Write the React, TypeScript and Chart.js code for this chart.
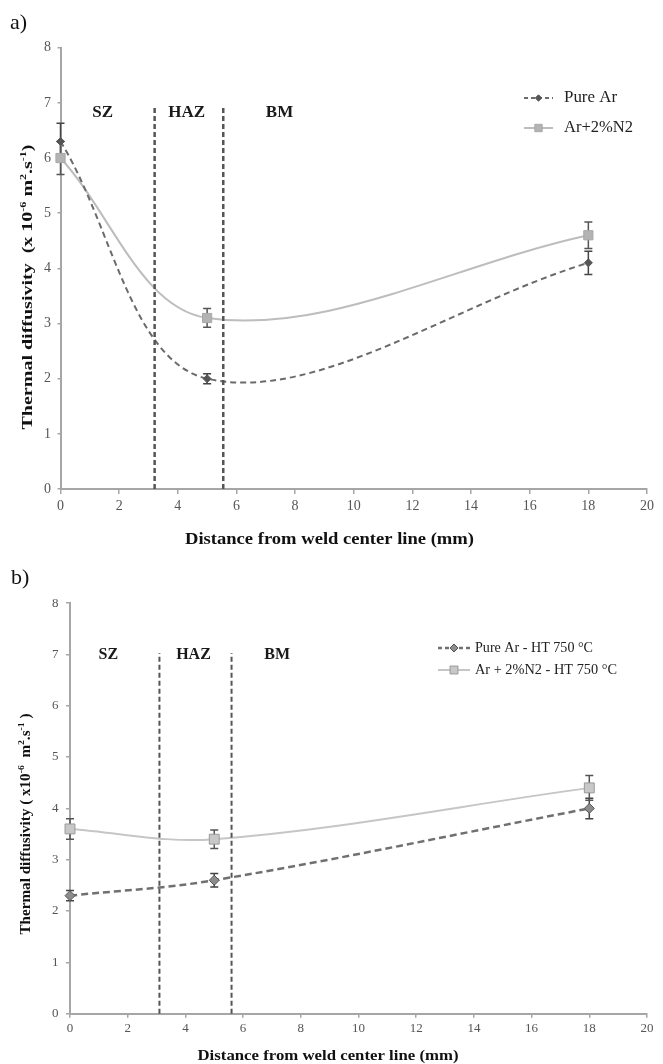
import { useEffect, useRef } from 'react';
import { Chart, registerables } from 'chart.js';

Chart.register(...registerables);

// ---------- data ----------
const distanceMm = [0, 5, 18];

const pureArA = [6.3, 2.0, 4.1];
const pureArAErr = [0.33, 0.09, 0.21];
const arN2A = [6.0, 3.1, 4.6];
const arN2AErr = [0.3, 0.17, 0.24];

const pureArB = [2.3, 2.6, 4.0];
const pureArBErr = [0.1, 0.13, 0.2];
const arN2B = [3.6, 3.4, 4.4];
const arN2BErr = [0.2, 0.18, 0.24];

const seriesLabelsA = ['Pure Ar', 'Ar+2%N2'];
const seriesLabelsB = ['Pure Ar - HT 750 °C', 'Ar + 2%N2 - HT 750 °C'];

const zoneNames = ['SZ', 'HAZ', 'BM'];
const zoneBoundaryA = [3.21, 5.55];
const zoneBoundaryB = [3.1, 5.6];
const zoneTopA = 6.93;
const zoneTopB = 7.03;
const zoneLabelXA = [1.44, 4.3, 7.47];
const zoneLabelXB = [1.33, 4.28, 7.18];
const zoneLabelYA = 6.82;
const zoneLabelYB = 6.99;

const xRange = [0, 20];
const xStep = 2;
const yRange = [0, 8];
const yStep = 1;

const xTitle = 'Distance from weld center line (mm)';
const yTitleA = [
  { t: 'Thermal diffusivity  (x 10' }, { t: '-6', sup: true }, { t: ' m' }, { t: '2', sup: true },
  { t: '.s' }, { t: '-1', sup: true }, { t: ')' },
];
const yTitleB = [
  { t: 'Thermal diffusivity ( x10' }, { t: '-6', sup: true }, { t: '  m' }, { t: '2', sup: true },
  { t: '.s' }, { t: '-1', sup: true }, { t: ' )' },
];

// ---------- helpers ----------
const SERIF = '"Liberation Serif", "Times New Roman", serif';

type Seg = { t: string; sup?: boolean };

function drawRich(ctx: CanvasRenderingContext2D, segs: Seg[], cx: number, cy: number, size: number,
  weight: string, targetW: number, rotate: boolean, color: string) {
  ctx.save();
  ctx.translate(cx, cy);
  if (rotate) ctx.rotate(-Math.PI / 2);
  const base = `${weight} ${size}px ${SERIF}`;
  const small = `${weight} ${Math.round(size * 0.62)}px ${SERIF}`;
  let total = 0;
  const widths = segs.map((s) => {
    ctx.font = s.sup ? small : base;
    const w = ctx.measureText(s.t).width;
    total += w;
    return w;
  });
  const k = targetW ? targetW / total : 1;
  ctx.scale(k, 1);
  ctx.fillStyle = color;
  ctx.textAlign = 'left';
  ctx.textBaseline = 'alphabetic';
  let x = -total / 2;
  const baseY = size * 0.33;
  segs.forEach((s, i) => {
    ctx.font = s.sup ? small : base;
    ctx.fillText(s.t, x, s.sup ? baseY - size * 0.4 : baseY);
    x += widths[i];
  });
  ctx.restore();
}

function drawMarker(ctx: CanvasRenderingContext2D, style: string, x: number, y: number, r: number, fill: string, stroke: string) {
  ctx.save();
  ctx.fillStyle = fill;
  ctx.strokeStyle = stroke;
  ctx.lineWidth = 1;
  ctx.setLineDash([]);
  ctx.beginPath();
  if (style === 'rectRot') {
    ctx.moveTo(x, y - r);
    ctx.lineTo(x + r, y);
    ctx.lineTo(x, y + r);
    ctx.lineTo(x - r, y);
    ctx.closePath();
  } else {
    const s = r * Math.SQRT1_2;
    ctx.rect(x - s, y - s, 2 * s, 2 * s);
  }
  ctx.fill();
  ctx.stroke();
  ctx.restore();
}

// ---------- panels ----------
interface PanelCfg {
  top: number;
  height: number;
  area: { left: number; right: number; top: number; bottom: number };
  tag: string;
  tagPos: [number, number];
  tagSize: number;
  xTitlePos: [number, number];
  xTitleSize: number;
  xTitleW: number;
  yTitle: Seg[];
  yTitlePos: [number, number];
  yTitleSize: number;
  yTitleLen: number;
  tickSize: number;
  xTickLen: number;
  xTickPad: number;
  yTickLen: number;
  yTickPad: number;
  zoneBoundary: number[];
  zoneTop: number;
  zoneLabelX: number[];
  zoneLabelY: number;
  zoneSize: number;
  zoneLineW: number;
  labels: string[];
  pure: number[];
  pureErr: number[];
  n2: number[];
  n2Err: number[];
  pureStyle: any;
  n2Style: any;
  legend: { x0: number; x1: number; tx: number; ys: number[]; widths: number[]; size: number };
}

const panelA: PanelCfg = {
  top: 0,
  height: 555,
  area: { left: 60.5, right: 647, top: 47.7, bottom: 489 },
  tag: 'a)',
  tagPos: [10, 29],
  tagSize: 22,
  xTitlePos: [329.5, 539],
  xTitleSize: 16,
  xTitleW: 289,
  yTitle: yTitleA,
  yTitlePos: [27, 287],
  yTitleSize: 15,
  yTitleLen: 285,
  tickSize: 14,
  xTickLen: 5,
  xTickPad: 4,
  yTickLen: 3,
  yTickPad: 6.5,
  zoneBoundary: zoneBoundaryA,
  zoneTop: zoneTopA,
  zoneLabelX: zoneLabelXA,
  zoneLabelY: zoneLabelYA,
  zoneSize: 17,
  zoneLineW: 2.5,
  labels: seriesLabelsA,
  pure: pureArA,
  pureErr: pureArAErr,
  n2: arN2A,
  n2Err: arN2AErr,
  pureStyle: { color: '#6b6b6b', dash: [6, 4], width: 2, marker: 'rectRot', r: 4, fill: '#555555', stroke: '#555555', err: '#444444' },
  n2Style: { color: '#bdbdbd', dash: [], width: 2, marker: 'rect', r: 6.5, fill: '#b3b3b3', stroke: '#a8a8a8', err: '#555555' },
  legend: { x0: 524, x1: 553, tx: 564, ys: [98, 128], widths: [53, 69], size: 16 },
};

const panelB: PanelCfg = {
  top: 555,
  height: 509,
  area: { left: 70, right: 647, top: 48.1, bottom: 458.7 },
  tag: 'b)',
  tagPos: [11, 29],
  tagSize: 22,
  xTitlePos: [328, 500.5],
  xTitleSize: 15,
  xTitleW: 261,
  yTitle: yTitleB,
  yTitlePos: [25, 269],
  yTitleSize: 14,
  yTitleLen: 221,
  tickSize: 13,
  xTickLen: 4,
  xTickPad: 3,
  yTickLen: 4,
  yTickPad: 7.5,
  zoneBoundary: zoneBoundaryB,
  zoneTop: zoneTopB,
  zoneLabelX: zoneLabelXB,
  zoneLabelY: zoneLabelYB,
  zoneSize: 16,
  zoneLineW: 2,
  labels: seriesLabelsB,
  pure: pureArB,
  pureErr: pureArBErr,
  n2: arN2B,
  n2Err: arN2BErr,
  pureStyle: { color: '#707070', dash: [7, 4], width: 2.5, marker: 'rectRot', r: 5, fill: '#8c8c8c', stroke: '#555555', err: '#444444' },
  n2Style: { color: '#c6c6c6', dash: [], width: 2, marker: 'rect', r: 7, fill: '#c8c8c8', stroke: '#9a9a9a', err: '#555555' },
  legend: { x0: 438, x1: 470, tx: 475, ys: [93, 115], widths: [118, 142], size: 14 },
};

function makeDecor(cfg: PanelCfg) {
  return {
    id: 'decor',
    beforeDatasetsDraw(chart: any) {
      const ctx: CanvasRenderingContext2D = chart.ctx;
      const xs = chart.scales.x;
      const ys = chart.scales.y;
      chart.data.datasets.forEach((ds: any) => {
        if (!ds.errorBars) return;
        ctx.save();
        ctx.strokeStyle = ds.errorColor;
        ctx.lineWidth = 1.5;
        ctx.setLineDash([]);
        ds.data.forEach((p: any, i: number) => {
          const e = ds.errorBars[i];
          const px = xs.getPixelForValue(p.x);
          const t = ys.getPixelForValue(p.y + e);
          const b = ys.getPixelForValue(p.y - e);
          const cap = 4;
          ctx.beginPath();
          ctx.moveTo(px, t);
          ctx.lineTo(px, b);
          ctx.moveTo(px - cap, t);
          ctx.lineTo(px + cap, t);
          ctx.moveTo(px - cap, b);
          ctx.lineTo(px + cap, b);
          ctx.stroke();
        });
        ctx.restore();
      });
    },
    afterDraw(chart: any) {
      const ctx: CanvasRenderingContext2D = chart.ctx;
      const xs = chart.scales.x;
      const ys = chart.scales.y;
      ctx.save();
      ctx.fillStyle = '#111';
      ctx.font = `${cfg.tagSize}px ${SERIF}`;
      ctx.textAlign = 'left';
      ctx.textBaseline = 'alphabetic';
      ctx.fillText(cfg.tag, cfg.tagPos[0], cfg.tagPos[1]);
      ctx.restore();

      drawRich(ctx, [{ t: xTitle }], cfg.xTitlePos[0], cfg.xTitlePos[1], cfg.xTitleSize, 'bold', cfg.xTitleW, false, '#111');
      drawRich(ctx, cfg.yTitle, cfg.yTitlePos[0], cfg.yTitlePos[1], cfg.yTitleSize, 'bold', cfg.yTitleLen, true, '#111');

      ctx.save();
      ctx.fillStyle = '#1a1a1a';
      ctx.font = `bold ${cfg.zoneSize}px ${SERIF}`;
      ctx.textAlign = 'center';
      ctx.textBaseline = 'middle';
      zoneNames.forEach((n, i) => {
        ctx.fillText(n, xs.getPixelForValue(cfg.zoneLabelX[i]), ys.getPixelForValue(cfg.zoneLabelY));
      });
      ctx.restore();

      const L = cfg.legend;
      [cfg.pureStyle, cfg.n2Style].forEach((st: any, i: number) => {
        const y = L.ys[i];
        ctx.save();
        ctx.strokeStyle = st.color;
        ctx.lineWidth = st.width;
        ctx.setLineDash(st.dash.length ? [4, 3] : []);
        ctx.beginPath();
        ctx.moveTo(L.x0, y);
        ctx.lineTo(L.x1, y);
        ctx.stroke();
        ctx.restore();
        drawMarker(ctx, st.marker, (L.x0 + L.x1) / 2, y, st.r * 0.8, st.fill, st.stroke);
        ctx.save();
        ctx.font = `${L.size}px ${SERIF}`;
        const w = ctx.measureText(cfg.labels[i]).width;
        ctx.translate(L.tx, y);
        ctx.scale(L.widths[i] / w, 1);
        ctx.fillStyle = '#222';
        ctx.textAlign = 'left';
        ctx.textBaseline = 'middle';
        ctx.fillText(cfg.labels[i], 0, 0);
        ctx.restore();
      });
    },
  };
}

function buildConfig(cfg: PanelCfg): any {
  const pts = (ys: number[]) => distanceMm.map((x, i) => ({ x, y: ys[i] }));
  const zoneDs = cfg.zoneBoundary.map((b) => ({
    label: 'zone',
    data: [{ x: b, y: yRange[0] }, { x: b, y: cfg.zoneTop }],
    borderColor: '#555555',
    borderWidth: cfg.zoneLineW,
    borderDash: [5, 3],
    pointRadius: 0,
    tension: 0,
    clip: false,
  }));
  const series = (vals: number[], errs: number[], st: any, label: string) => ({
    label,
    data: pts(vals),
    errorBars: errs,
    errorColor: st.err,
    borderColor: st.color,
    borderWidth: st.width,
    borderDash: st.dash,
    pointStyle: st.marker,
    pointRadius: st.r,
    pointBackgroundColor: st.fill,
    pointBorderColor: st.stroke,
    pointBorderWidth: 1,
    tension: 0.35,
    fill: false,
    clip: false,
  });
  const tickFont = { family: SERIF, size: cfg.tickSize };
  return {
    type: 'line',
    data: {
      datasets: [
        ...zoneDs,
        series(cfg.pure, cfg.pureErr, cfg.pureStyle, cfg.labels[0]),
        series(cfg.n2, cfg.n2Err, cfg.n2Style, cfg.labels[1]),
      ],
    },
    options: {
      responsive: false,
      maintainAspectRatio: false,
      animation: false,
      devicePixelRatio: 1,
      layout: { padding: { left: 0, top: cfg.area.top, right: 663 - cfg.area.right, bottom: 0 } },
      plugins: { legend: { display: false }, tooltip: { enabled: false }, title: { display: false } },
      scales: {
        x: {
          type: 'linear',
          min: xRange[0],
          max: xRange[1],
          ticks: { stepSize: xStep, autoSkip: false, maxRotation: 0, font: tickFont, color: '#555', padding: cfg.xTickPad },
          grid: { display: true, drawOnChartArea: false, drawTicks: true, tickLength: cfg.xTickLen, color: '#a6a6a6', lineWidth: 1.5 },
          border: { display: true, color: '#a6a6a6', width: 2 },
          afterFit: (s: any) => { s.height = cfg.height - cfg.area.bottom; },
        },
        y: {
          type: 'linear',
          min: yRange[0],
          max: yRange[1],
          ticks: { stepSize: yStep, autoSkip: false, font: tickFont, color: '#555', padding: cfg.yTickPad },
          grid: { display: true, drawOnChartArea: false, drawTicks: true, tickLength: cfg.yTickLen, color: '#a6a6a6', lineWidth: 1.5 },
          border: { display: true, color: '#a6a6a6', width: 2 },
          afterFit: (s: any) => { s.width = cfg.area.left; },
        },
      },
    },
    plugins: [makeDecor(cfg)],
  };
}

function Panel({ cfg }: { cfg: PanelCfg }) {
  const ref = useRef<HTMLCanvasElement>(null);
  useEffect(() => {
    const chart = new Chart(ref.current as HTMLCanvasElement, buildConfig(cfg));
    return () => chart.destroy();
  }, [cfg]);
  return (
    <canvas
      ref={ref}
      width={663}
      height={cfg.height}
      style={{ position: 'absolute', left: 0, top: cfg.top, width: 663, height: cfg.height, display: 'block' }}
    />
  );
}

export default function App() {
  return (
    <div style={{ position: 'absolute', left: 0, top: 0, width: 663, height: 1064, background: '#fff' }}>
      <Panel cfg={panelA} />
      <Panel cfg={panelB} />
    </div>
  );
}
